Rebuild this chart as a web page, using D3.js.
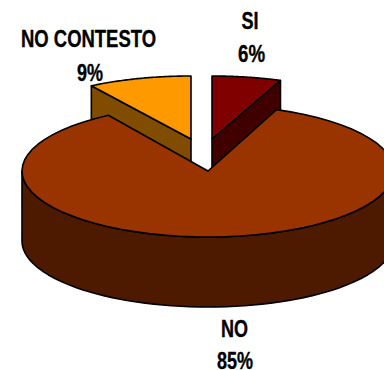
<!DOCTYPE html>
<html><head><meta charset="utf-8">
<script src="https://cdn.jsdelivr.net/npm/d3@7/dist/d3.min.js"></script>
<style>html,body{margin:0;padding:0;background:#fff;overflow:hidden}svg{display:block}
text{font-family:"Liberation Sans",Arial,sans-serif;font-weight:bold;fill:#000;stroke:#000;stroke-width:.35}</style>
</head><body><svg id="c" width="384" height="370"></svg>
<script>
const categories = ["SI","NO","NO CONTESTO"];
const values = [6,85,9];
const percentLabels = ["6%","85%","9%"];
const topColors = ["#800000","#993300","#ff9900"];
const sideColors = ["#400000","#4d1a00","#804d00"];

const W=384,H=370, rx=186, depth=70;
const centers=[[212,139],[208,171],[191,139]];
const radiiY=[63,66,63];
const svg=d3.select("#c");
const pie=d3.pie().sort(null).value(d=>d)(values);
const pt=(i,a,dy=0)=>[centers[i][0]+rx*Math.sin(a),centers[i][1]-radiiY[i]*Math.cos(a)+dy];
const line=d3.line();
const arcPts=(i,a0,a1,dy=0)=>d3.range(0,65).map(k=>pt(i,a0+(a1-a0)*k/64,dy));
const sw=1.6;
const draw=(pts,fill)=>svg.append("path").attr("d",line(pts)+"Z").attr("fill",fill)
  .attr("stroke","#000").attr("stroke-width",sw).attr("stroke-linejoin","round");

[[0,pie[0].endAngle],[2,pie[2].startAngle]].forEach(([i,a])=>{
  const c=centers[i],p=pt(i,a);
  draw([c,p,[p[0],p[1]+depth],[c[0],c[1]+depth]],sideColors[i]);
});
[0,2].forEach(i=>{
  const d=pie[i];
  draw([centers[i],...arcPts(i,d.startAngle,d.endAngle)],topColors[i]);
});
{
  const d=pie[1];
  const a0=Math.PI/2,a1=3*Math.PI/2;
  draw([...arcPts(1,a0,a1),...arcPts(1,a1,a0,depth)],sideColors[1]);
  draw([centers[1],...arcPts(1,d.startAngle,d.endAngle)],topColors[1]);
}
const fs=23;
const add=(t,x,y,len)=>svg.append("text").attr("x",x).attr("y",y).attr("text-anchor","middle")
  .attr("font-size",fs).attr("textLength",len).attr("lengthAdjust","spacingAndGlyphs").text(t);
add(categories[0],250,29,17);
add(percentLabels[0],251.5,62,27);
add(categories[1],234.5,337,27);
add(percentLabels[1],235,369,36);
add(categories[2],88.5,47,135);
add(percentLabels[2],90,81,26);
</script></body></html>
